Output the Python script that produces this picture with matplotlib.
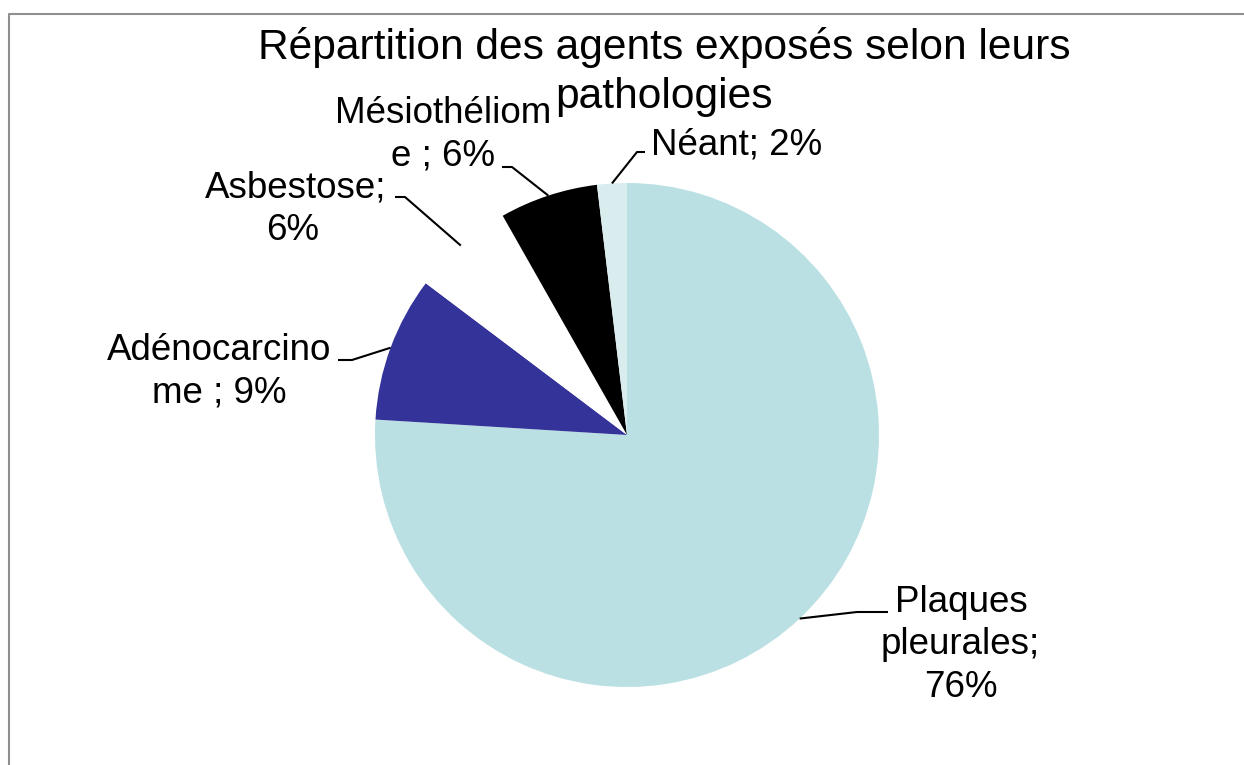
import matplotlib.pyplot as plt
import numpy as np

# data
categories = ['Plaques pleurales', 'Adénocarcinome', 'Asbestose', 'Mésiothéliome', 'Néant']
shares = [75.9, 9.3, 6.5, 6.3, 1.9]
label_lines = [['Plaques', 'pleurales;', '76%'],
               ['Adénocarcino', 'me ; 9%'],
               ['Asbestose;', '6%'],
               ['Mésiothéliom', 'e ; 6%'],
               ['Néant; 2%']]
colors = ['#bae0e3', '#343399', '#ffffff', '#000000', '#d9edef']
title_lines = ['Répartition des agents exposés selon leurs', 'pathologies']

W, H = 1244, 765
plt.rcParams['font.family'] = ['Liberation Sans', 'DejaVu Sans']

fig = plt.figure(figsize=(W / 100, H / 100), dpi=100)
ax = fig.add_axes([0, 0, 1, 1])

# pixel coords (y from top) -> data coords
def P(x, y):
    return x, H - y

cx, cy = P(627, 435)
R = 252
wedges, _ = ax.pie(shares, colors=colors, startangle=90, counterclock=False,
                   center=(cx, cy), radius=R, frame=True,
                   wedgeprops=dict(linewidth=0))
ax.set_xlim(0, W)
ax.set_ylim(0, H)
ax.set_aspect('equal')
ax.axis('off')

# label placement: per-line center x, first baseline y, leader elbow + end
label_x = [[961, 960, 961], [219, 219], [296, 293], [443, 443], [737]]
label_y = [612, 360, 197, 123, 154]
elbows = [((857, 612), (888, 612)),
          ((352, 360), (338, 360)),
          ((405, 197), (395, 197)),
          ((512, 167), (502, 167)),
          ((637, 152), (645, 152))]
step = 42.5
fs = 26.5

for w, lines, xs, ty, (e1, e2) in zip(wedges, label_lines, label_x, label_y, elbows):
    mid = np.deg2rad((w.theta1 + w.theta2) / 2)
    ax_, ay_ = cx + R * np.cos(mid), cy + R * np.sin(mid)
    ex1, ey1 = P(*e1)
    ex2, ey2 = P(*e2)
    ax.plot([ax_, ex1, ex2], [ay_, ey1, ey2], color='black', lw=1.5,
            solid_capstyle='butt')
    for i, line in enumerate(lines):
        x, y = P(xs[i], ty + i * step)
        ax.text(x, y, line, ha='center', va='baseline', fontsize=fs, color='black')

# title
for i, line in enumerate(title_lines):
    x, y = P(664, 59 + i * 49)
    ax.text(x, y, line, ha='center', va='baseline', fontsize=30.6, color='black')

# chart border (cropped at right and bottom)
ax.plot([9, 9, W + 5], [-5, H - 14, H - 14], color='#8f8f8f', lw=1.5)

fig.savefig('out.png', dpi=100)
